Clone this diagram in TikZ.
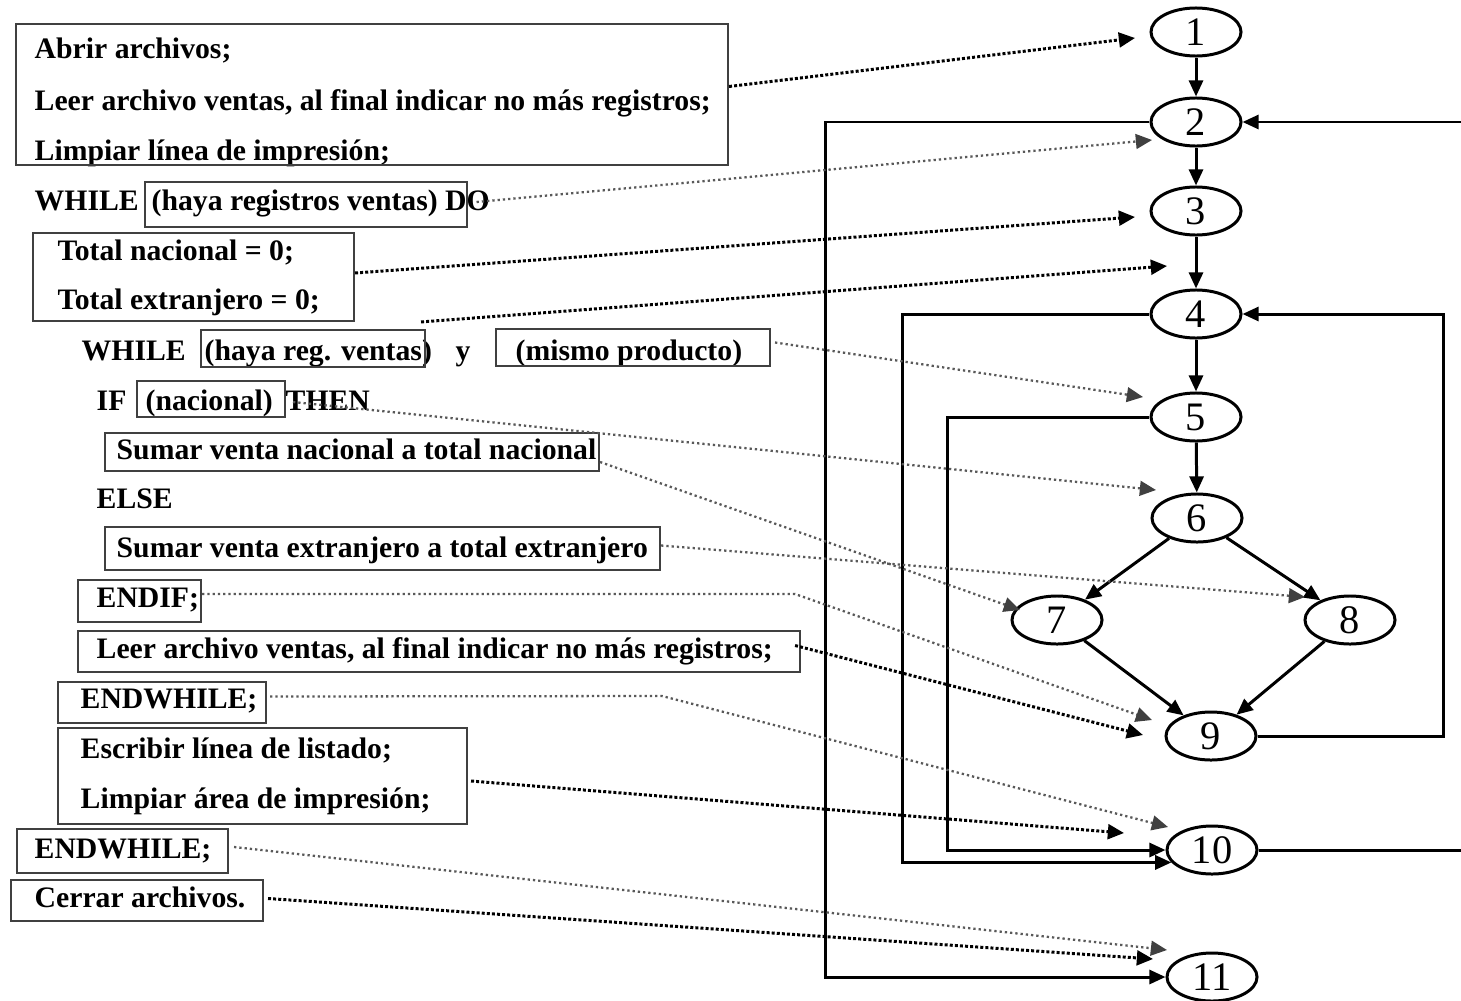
\documentclass[tikz,border=0pt]{standalone}
\usepackage{fontspec}
\setmainfont{Liberation Serif}
\usetikzlibrary{arrows.meta,calc,fit,shapes.geometric}

\begin{document}
\begin{tikzpicture}[x=0.01cm,y=-0.01cm,
  code/.style={anchor=base west, inner sep=0pt, font=\fontsize{8.45}{10}\selectfont\bfseries},
  box/.style={draw=black!75, line width=0.6pt, inner sep=0pt},
  state/.style={ellipse, draw, line width=0.85pt, minimum width=0.9cm, minimum height=0.48cm,
                inner sep=0pt, font=\fontsize{11.5}{12}\selectfont},
  flow/.style={line width=0.85pt, -{Triangle[length=4.6pt,width=4pt]}},
  mapk/.style={line width=0.85pt, dash pattern=on 0.85pt off 0.6pt,
               -{Triangle[length=4.6pt,width=4.2pt]}},
  mapg/.style={draw=black!65, line width=0.65pt, dash pattern=on 0.65pt off 0.85pt,
               -{Triangle[length=4.6pt,width=4.2pt,color=black!75]}},
]
\useasboundingbox (0,0) rectangle (1461,1000);

% ---------------- pseudocode ----------------
\node[code] (tA1) at (34,58) {Abrir archivos;};
\node[code] (tA2) at (34,110) {Leer archivo ventas, al final indicar no más registros;};
\node[code] (tA3) at (34,160) {Limpiar línea de impresión;};
\node[code] (tW1k) at (34,210) {WHILE};
\node[code] (tW1) at (151,210) {(haya registros ventas) DO};
\node[code] (tT1) at (57,260) {Total nacional = 0;};
\node[code] (tT2) at (57,309) {Total extranjero = 0;};
\node[code] (tW2k) at (81,360) {WHILE};
\node[code] (tW2a) at (204,360) {(haya reg. ventas)};
\node[code] (tY) at (455,360) {y};
\node[code] (tW2b) at (515,360) {(mismo producto)};
\node[code] (tIF) at (96,410) {IF};
\node[code] (tNac) at (145,410) {(nacional)};
\node[code] (tTHEN) at (285,410) {THEN};
\node[code] (tSN) at (116,459) {Sumar venta nacional a total nacional};
\node[code] (tELSE) at (96,508) {ELSE};
\node[code] (tSE) at (116,557) {Sumar venta extranjero a total extranjero};
\node[code] (tEI) at (96,607) {ENDIF;};
\node[code] (tL) at (96,658) {Leer archivo ventas, al final indicar no más registros;};
\node[code] (tEW) at (80,708) {ENDWHILE;};
\node[code] (tES1) at (80,758) {Escribir línea de listado;};
\node[code] (tES2) at (80,808) {Limpiar área de impresión;};
\node[code] (tEW2) at (34,858) {ENDWHILE;};
\node[code] (tC) at (34,907) {Cerrar archivos.};

% boxes around the statement groups
\node[box, fit={(16,24) (728,165)}] (bA) {};
\node[box, fit={(145,182) (467,227)}] (bW1) {};
\node[box, fit={(33,233) (354,321)}] (bT) {};
\node[box, fit={(201,330) (425,367)}] (bW2a) {};
\node[box, fit={(496,329) (770,366)}] (bW2b) {};
\node[box, fit={(137,381) (285,417)}] (bIF) {};
\node[box, fit={(105,433) (599,471)}] (bSN) {};
\node[box, fit={(105,527) (660,570)}] (bSE) {};
\node[box, fit={(78,580) (201,622)}] (bEI) {};
\node[box, fit={(78,631) (800,672)}] (bL) {};
\node[box, fit={(58,682) (266,723)}] (bEW) {};
\node[box, fit={(58,728) (467,824)}] (bES) {};
\node[box, fit={(17,829) (228,873)}] (bEW2) {};
\node[box, fit={(11,880) (263,921)}] (bC) {};

% ---------------- flow graph ----------------
\node[state] (n1) at (1196,32) {1};
\node[state] (n2) at (1196,122) {2};
\node[state] (n3) at (1196,211) {3};
\node[state] (n4) at (1196,314) {4};
\node[state] (n5) at (1196,417) {5};
\node[state] (n6) at (1197,518) {6};
\node[state] (n7) at (1057,620) {7};
\node[state] (n8) at (1350,620) {8};
\node[state] (n9) at (1211,736) {9};
\node[state] (n10) at (1212,850) {10};
\node[state] (n11) at (1212,977) {11};

\draw[flow] (n1) -- (n2);
\draw[flow] (n2) -- (n3);
\draw[flow] (n3) -- (n4);
\draw[flow] (n4) -- (n5);
\draw[flow] (n5) -- (n6);
\draw[flow] (n6) -- (n7);
\draw[flow] (n6) -- (n8);
\draw[flow] (n7) -- (n9);
\draw[flow] (n8) -- (n9);
\draw[flow] (n2.west) -- ++(-324,0) |- (n11.west);
\draw[flow] (n4.west) -- ++(-247,0) |- (n10.197);
\draw[flow] (n5.west) -- ++(-202,0) |- (n10.west);
\draw[flow] (n9.east) -- ++(186,0) |- (n4.east);
\begin{scope}
  \clip (0,0) rectangle (1461,1000);
  \draw[flow] (n10.east) -- ++(240,0) |- (n2.east);
\end{scope}

% ---------------- statement -> node mapping ----------------
\coordinate (t1) at (1135,38);
\coordinate (t2) at (1152,140);
\coordinate (t3) at (1135,217);
\coordinate (t4) at (1167,266);
\coordinate (t5) at (1143,397);
\coordinate (t6) at (1156,490);
\coordinate (t7) at (1020,610);
\coordinate (t8) at (1305,597);
\coordinate (k9) at (795,594);
\coordinate (t9) at (1152,720);
\coordinate (t10) at (1143,735);
\coordinate (k11) at (662,696);
\coordinate (t11) at (1168,827);
\coordinate (t12) at (1124,833);
\coordinate (t13) at (1167,950);
\coordinate (t14) at (1153,959);

\draw[mapk] ($(bA.east)+(0,-8)$) -- (t1);
\draw[mapg] ($(tW1.base east)+(-14,-8)$) -- (t2);
\draw[mapk] ($(bT.east)+(0,-4)$) -- (t3);
\draw[mapk] ($(bW2a.north east)+(-5,-7)$) -- (t4);
\draw[mapg] ($(bW2b.east)+(4,-5)$) -- (t5);
\draw[mapg] ($(tTHEN.base west)+(8,-8)$) -- (t6);
\draw[mapg] ($(bSN.east)+(0,10)$) -- (t7);
\draw[mapg] ($(bSE.east)+(0,-3)$) -- (t8);
\draw[mapg] ($(bEI.east)+(0,-7)$) -- (k9) -- (t9);
\draw[mapk] ($(bL.east)+(-6,-6)$) -- (t10);
\draw[mapg] ($(bEW.east)+(3,-6)$) -- (k11) -- (t11);
\draw[mapk] ($(bES.east)+(3,5)$) -- (t12);
\draw[mapg] ($(bEW2.east)+(5,-4)$) -- (t13);
\draw[mapk] ($(bC.east)+(4,-2)$) -- (t14);
\end{tikzpicture}
\end{document}
